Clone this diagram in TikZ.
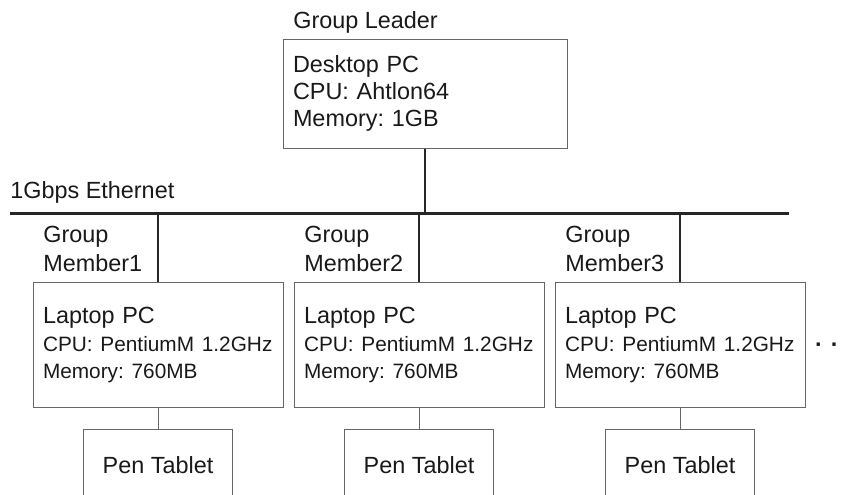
\documentclass[tikz,border=0pt]{standalone}
\usepackage{fontspec}
\setmainfont{Liberation Sans}
\usepackage{tikz}
\frenchspacing
\newcommand{\bigfont}{\fontsize{11.7}{13.5}\selectfont}
\newcommand{\smallfont}{\fontsize{10.4}{12.2}\selectfont}
\begin{document}
\begin{tikzpicture}[x=0.5pt,y=-0.5pt,
   pcbox/.style={draw=black!60,line width=0.5pt,align=left,inner xsep=5pt,inner ysep=0pt,font=\bigfont,text=black!90},
   tabbox/.style={draw=black!60,line width=0.5pt,minimum width=74.5pt,minimum height=35.7pt,inner sep=0pt,font=\bigfont,text=black!90},
   lbl/.style={inner sep=0pt,align=left,font=\bigfont,text=black!90},
   thickline/.style={draw=black!85,line width=1.5pt},
   dropline/.style={draw=black!85,line width=1.2pt},
   thinline/.style={draw=black!60,line width=0.5pt}]
   \clip (0,0) rectangle (844,494);
   % leader
   \node[lbl,anchor=base west] (leadlbl) at (293,28) {Group Leader};
   \node[pcbox,text width=132pt,minimum height=54.5pt] (leader) at (425,93.5) {Desktop PC\\CPU: Ahtlon64\\Memory: 1GB};
   % ethernet
   \node[lbl,anchor=base west] (netlbl) at (10,198) {1Gbps Ethernet};
   \coordinate (busL) at (10,213);
   \coordinate (busR) at (789,213);
   \draw[thickline] (busL) -- (busR);
   \draw[dropline] (leader.south) -- (leader.south |- busL);
   % members
   \foreach \i/\x in {1/158,2/419,3/680}{
     \node[lbl,anchor=north west] (mem\i) at (\x-115,226) {Group\\[1pt]Member\i};
     \node[pcbox,text width=115pt,minimum height=62.5pt] (lap\i) at (\x,345)
        {Laptop PC\\[1.6pt]\smallfont CPU: PentiumM 1.2GHz\\\smallfont Memory: 760MB};
     \node[tabbox] (tab\i) at (\x,464.7) {Pen Tablet};
     \draw[dropline] (lap\i.north) -- (lap\i.north |- busL);
     \draw[thinline] (lap\i.south) -- (tab\i.north);
   }
   \node[inner sep=0pt,anchor=base,font=\bfseries\bigfont,text=black!90] (more) at (827,352) {·\hspace{4pt}·};
\end{tikzpicture}
\end{document}
